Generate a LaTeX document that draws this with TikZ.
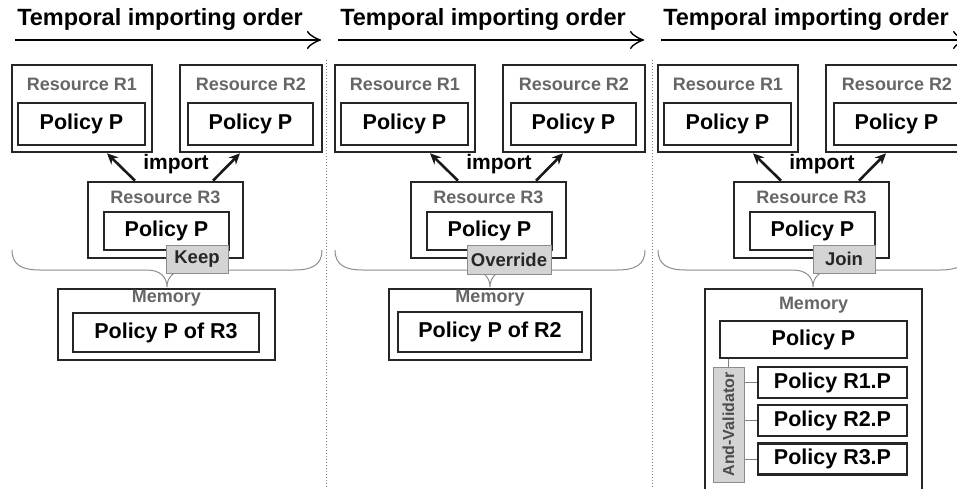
\documentclass[tikz,border=0pt]{standalone}
\usepackage{fontspec}
\setmainfont{Liberation Sans}
\usetikzlibrary{arrows.meta,calc}

\begin{document}
\begin{tikzpicture}[x=1pt, y=-1pt,
  outer/.style = {draw=black!85, line width=2.6pt, inner sep=0pt},
  inner/.style = {draw=black!85, line width=2.6pt, inner sep=0pt, font=\fontsize{21.5}{22}\selectfont\bfseries},
  lbl/.style = {text=black!60, font=\fontsize{18}{18}\selectfont\bfseries},
  tag/.style = {draw=black!45, fill=black!17, line width=1pt, inner sep=0pt, text=black!85, font=\fontsize{18.5}{18}\selectfont\bfseries},
  title/.style = {font=\fontsize{23.5}{24}\selectfont\bfseries},
  order/.style = {-{Classical TikZ Rightarrow[length=14pt,width=18pt,line width=1.4pt]}, line width=1.5pt},
  imp/.style = {-{Stealth[length=11pt,width=10pt]}, line width=2.6pt, draw=black!90},
  brace/.style = {draw=black!45, line width=1pt},
  sep/.style = {draw=black!50, dotted, line width=1pt},
  link/.style = {draw=black!50, line width=1pt}]
\useasboundingbox (0,0) rectangle (957,488);
\clip (0,0) rectangle (957,488);

\draw[sep] (326,60) -- (326,488);
\draw[sep] (652,60) -- (652,488);

% Keep
\node[title] (ta) at (160,19) {Temporal importing order};
\coordinate (oa1) at (15,40);
\coordinate (oa2) at (321,40);
\draw[order] (oa1) -- (oa2);
\node[outer, minimum width=140pt, minimum height=87pt] (r1a) at (82,108.5) {};
\node[lbl] (r1alb) at (82,84) {Resource R1};
\node[inner, minimum width=127pt, minimum height=42pt] (p1a) at (81.5,124) {Policy P};
\node[outer, minimum width=142pt, minimum height=87pt] (r2a) at (251,108.5) {};
\node[lbl] (r2alb) at (251,84) {Resource R2};
\node[inner, minimum width=125pt, minimum height=42pt] (p2a) at (250.5,124) {Policy P};
\node[font=\fontsize{21}{21}\selectfont\bfseries] (ia) at (176,164) {import};
\node[outer, minimum width=155pt, minimum height=76pt] (r3a) at (165.5,220) {};
\node[lbl] (r3alb) at (165.5,197) {Resource R3};
\node[inner, minimum width=125pt, minimum height=38pt] (p3a) at (166.5,231) {Policy P};
\draw[imp] ($(r3a.north)+(-30.5,0)$) -- ($(r1a.south)+(25,0)$);
\draw[imp] ($(r3a.north)+(47.5,0)$) -- ($(r2a.south)+(-11,0)$);
\draw[brace] (12,250) .. controls (12,265) and (22,270) .. (40,270) -- (147,270) .. controls (160,270) and (167,277) .. (167,287) .. controls (167,277) and (174,270) .. (187,270) -- (294,270) .. controls (312,270) and (322,265) .. (322,250);
\node[tag, minimum width=62pt, minimum height=28pt] (ka) at (197,259) {Keep};
\node[outer, minimum width=217pt, minimum height=71pt] (ma) at (166.5,324.5) {};
\node[lbl] (malb) at (166.5,298) {Memory};
\node[inner, minimum width=186pt, minimum height=39pt] (mpa) at (166,332.5) {Policy P of R3};

% Override
\begin{scope}[shift={(323,0)}]
\node[title] (tb) at (160,19) {Temporal importing order};
\coordinate (ob1) at (15,40);
\coordinate (ob2) at (321,40);
\draw[order] (ob1) -- (ob2);
\node[outer, minimum width=140pt, minimum height=87pt] (r1b) at (82,108.5) {};
\node[lbl] (r1blb) at (82,84) {Resource R1};
\node[inner, minimum width=127pt, minimum height=42pt] (p1b) at (81.5,124) {Policy P};
\node[outer, minimum width=142pt, minimum height=87pt] (r2b) at (251,108.5) {};
\node[lbl] (r2blb) at (251,84) {Resource R2};
\node[inner, minimum width=125pt, minimum height=42pt] (p2b) at (250.5,124) {Policy P};
\node[font=\fontsize{21}{21}\selectfont\bfseries] (ib) at (176,164) {import};
\node[outer, minimum width=155pt, minimum height=76pt] (r3b) at (165.5,220) {};
\node[lbl] (r3blb) at (165.5,197) {Resource R3};
\node[inner, minimum width=125pt, minimum height=38pt] (p3b) at (166.5,231) {Policy P};
\draw[imp] ($(r3b.north)+(-30.5,0)$) -- ($(r1b.south)+(25,0)$);
\draw[imp] ($(r3b.north)+(47.5,0)$) -- ($(r2b.south)+(-11,0)$);
\draw[brace] (12,250) .. controls (12,265) and (22,270) .. (40,270) -- (147,270) .. controls (160,270) and (167,277) .. (167,287) .. controls (167,277) and (174,270) .. (187,270) -- (294,270) .. controls (312,270) and (322,265) .. (322,250);
\node[tag, minimum width=84pt, minimum height=29pt] (kb) at (186,259.5) {Override};
\node[outer, minimum width=202pt, minimum height=71pt] (mb) at (167,324.5) {};
\node[lbl] (mblb) at (167,298) {Memory};
\node[inner, minimum width=184pt, minimum height=40pt] (mpb) at (167,332) {Policy P of R2};
\end{scope}

% Join
\begin{scope}[shift={(646,0)}]
\node[title] (tc) at (160,19) {Temporal importing order};
\coordinate (oc1) at (15,40);
\coordinate (oc2) at (321,40);
\draw[order] (oc1) -- (oc2);
\node[outer, minimum width=140pt, minimum height=87pt] (r1c) at (82,108.5) {};
\node[lbl] (r1clb) at (82,84) {Resource R1};
\node[inner, minimum width=127pt, minimum height=42pt] (p1c) at (81.5,124) {Policy P};
\node[outer, minimum width=142pt, minimum height=87pt] (r2c) at (251,108.5) {};
\node[lbl] (r2clb) at (251,84) {Resource R2};
\node[inner, minimum width=125pt, minimum height=42pt] (p2c) at (250.5,124) {Policy P};
\node[font=\fontsize{21}{21}\selectfont\bfseries] (ic) at (176,164) {import};
\node[outer, minimum width=155pt, minimum height=76pt] (r3c) at (165.5,220) {};
\node[lbl] (r3clb) at (165.5,197) {Resource R3};
\node[inner, minimum width=125pt, minimum height=38pt] (p3c) at (166.5,231) {Policy P};
\draw[imp] ($(r3c.north)+(-30.5,0)$) -- ($(r1c.south)+(25,0)$);
\draw[imp] ($(r3c.north)+(47.5,0)$) -- ($(r2c.south)+(-11,0)$);
\draw[brace] (12,250) .. controls (12,265) and (22,270) .. (40,270) -- (147,270) .. controls (160,270) and (167,277) .. (167,287) .. controls (167,277) and (174,270) .. (187,270) -- (294,270) .. controls (312,270) and (322,265) .. (322,250);
\node[tag, minimum width=62pt, minimum height=28pt] (kc) at (198,259) {Join};
\node[outer, minimum width=217pt, minimum height=221pt] (mc) at (167.5,399.5) {};
\node[lbl] (mclb) at (167.5,305) {Memory};
\node[inner, minimum width=187pt, minimum height=37pt] (mpc) at (167.5,339.5) {Policy P};
\node[tag, rotate=90, minimum width=115pt, minimum height=31pt, font=\fontsize{16}{16}\selectfont\bfseries, text=black!70] (av) at (82.5,424.5) {And-Validator};
\node[inner, minimum width=149pt, minimum height=31pt] (q1) at (186.5,382.5) {Policy R1.P};
\node[inner, minimum width=149pt, minimum height=31pt] (q2) at (186.5,420.5) {Policy R2.P};
\node[inner, minimum width=149pt, minimum height=31pt] (q3) at (186.5,459) {Policy R3.P};
\draw[link] (av.east |- mpc.south) -- (av.east);
\draw[link] (q1.west -| av.south) -- (q1.west);
\draw[link] (q2.west -| av.south) -- (q2.west);
\draw[link] (q3.west -| av.south) -- (q3.west);
\end{scope}
\end{tikzpicture}
\end{document}
